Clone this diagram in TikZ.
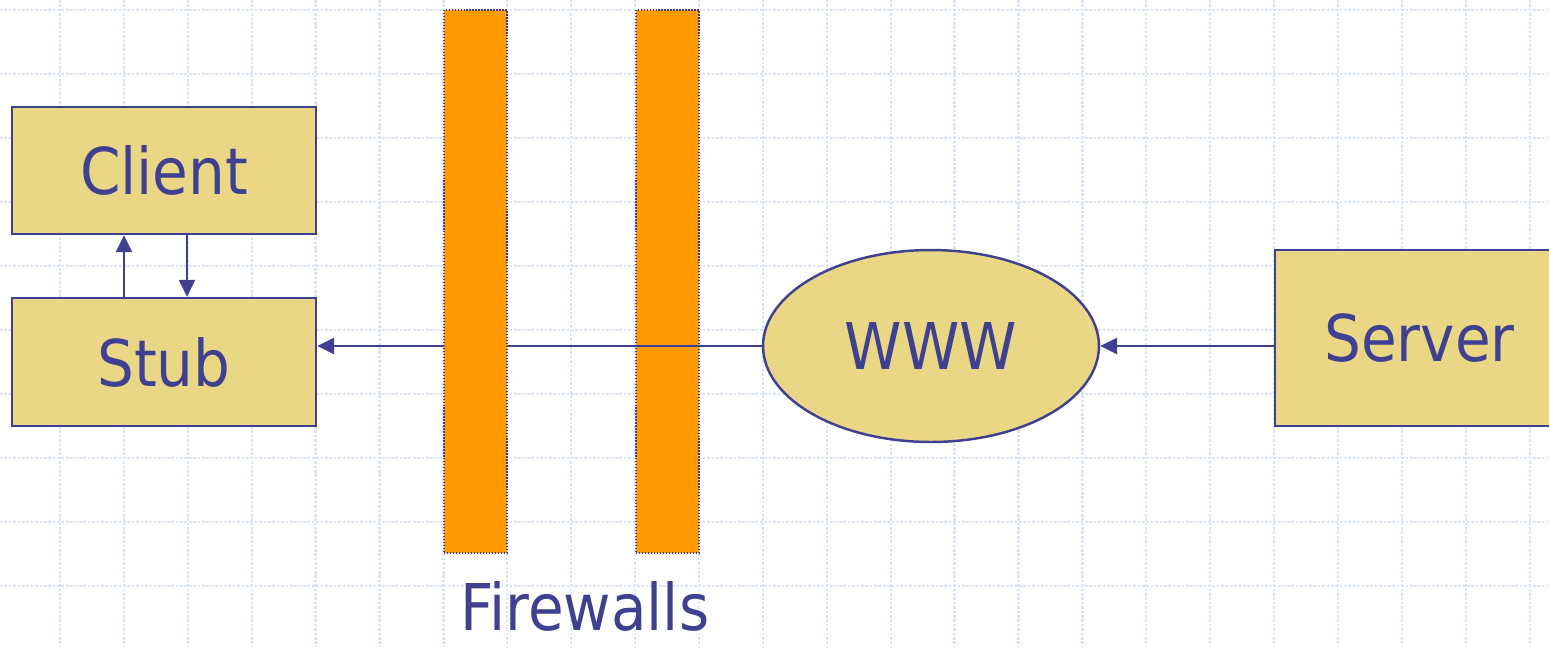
\documentclass[tikz,border=0pt]{standalone}
\usepackage{fontspec}
\setmainfont{DejaVu Sans Condensed}
\usepackage{tikz}
\usetikzlibrary{arrows.meta,shapes.geometric,calc}

\definecolor{ink}{RGB}{64,64,144}
\definecolor{sand}{RGB}{234,215,133}
\definecolor{fire}{RGB}{255,153,0}
\definecolor{gridblue}{RGB}{218,226,252}

\begin{document}
\begin{tikzpicture}[x=0.02cm,y=-0.02cm,>={Triangle[length=0.34cm,width=0.32cm]},
    box/.style={draw=ink,fill=sand,line width=1.4pt,text=ink,inner sep=0pt,font=\fontsize{36.7}{44}\selectfont},
    wall/.style={draw=ink,densely dotted,fill=fire,line width=0.7pt,inner sep=0pt,minimum width=1.26cm,minimum height=10.86cm},
    link/.style={->,draw=ink,line width=1.4pt},
    gridline/.style={draw=gridblue,line width=1.3pt,dash pattern=on 1.5pt off 1pt}]
  \useasboundingbox (0,0) rectangle (1549,647);
  % background grid
  \foreach \i in {0,...,23} \draw[gridline] ({60+63.9*\i},0) -- ({60+63.9*\i},647);
  \foreach \j in {0,...,9} \draw[gridline] (0,{10+64*\j}) -- (1549,{10+64*\j});

  \node[box,minimum width=6.08cm,minimum height=2.54cm] (client) at (164,170.5) {Client};
  \node[box,minimum width=6.08cm,minimum height=2.56cm] (stub) at (164,362) {Stub};
  \node[box,ellipse,minimum width=6.72cm,minimum height=3.84cm] (www) at (931,346) {WWW};
  \node[box,minimum width=5.78cm,minimum height=3.52cm] (server) at (1419.5,338) {Server};
  \node[wall] (fw2) at (667.5,281.5) {};

  \draw[link] ([xshift=-0.8cm]stub.north) -- ([xshift=-0.8cm]client.south);
  \draw[link] ([xshift=0.46cm]client.south) -- ([xshift=0.46cm]stub.north);
  \draw[link] (www.west) -- (www.west -| stub.east);
  \draw[link] (www.east -| server.west) -- (www.east);

  % first wall sits on top of the line
  \node[wall] (fw1) at (475.5,281.5) {};
  \node[text=ink,anchor=base,inner sep=0pt,font=\fontsize{36.7}{44}\selectfont] (walls) at (585,630) {Firewalls};
\end{tikzpicture}
\end{document}
